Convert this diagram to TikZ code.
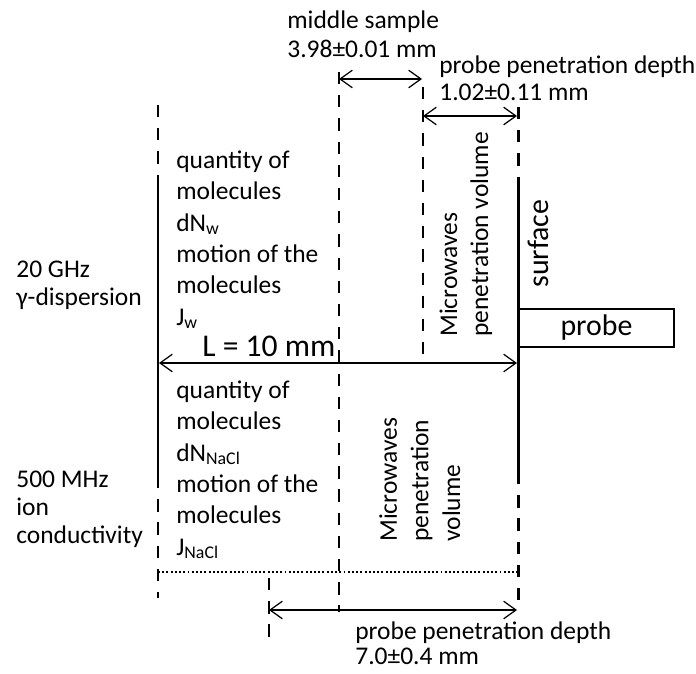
\documentclass[tikz,border=0pt]{standalone}
\usepackage{fontspec}
\setmainfont{Carlito}
\usetikzlibrary{arrows.meta}
\begin{document}
\begin{tikzpicture}[x=0.02cm,y=-0.02cm,
  wall/.style={line width=1.7pt},
  cut/.style={line width=1.7pt,dash pattern=on 7pt off 6.2pt},
  dim/.style={line width=0.7pt,{Straight Barb[length=7pt,width=10pt]}-{Straight Barb[length=7pt,width=10pt]}},
  txt/.style={inner sep=0pt,anchor=base west,align=left,font=\fontsize{14.5}{#1}\selectfont},
  txt/.default=17.8pt]
\useasboundingbox (0,0) rectangle (696,673);
% sample walls
\draw[cut] (158,105)--(158,182);
\draw[wall] (158,182)--(158,476);
\draw[cut] (158,476)--(158,598);
\draw[cut] (518,107)--(518,180);
\draw[wall] (518,180)--(518,472);
\draw[cut] (518,472)--(518,610);
% inner borders
\draw[cut] (339,72)--(339,612);
\draw[cut] (423,87)--(423,362);
\draw[cut] (269,578)--(269,638);
\draw[line width=0.9pt,dash pattern=on 1.1pt off 1.3pt] (158,572)--(518,572);
% dimensions
\coordinate (m1) at (339,79);  \coordinate (m2) at (422,79);
\coordinate (p1) at (423,116); \coordinate (p2) at (517,116);
\coordinate (l1) at (159,363); \coordinate (l2) at (517,363);
\coordinate (q1) at (269,610); \coordinate (q2) at (517,610);
\draw[dim] (m1)--(m2);
\draw[dim] (p1)--(p2);
\draw[dim] (l1)--(l2);
\draw[dim] (q1)--(q2);
% probe
\node[draw,line width=1.1pt,minimum width=3.1cm,minimum height=0.76cm,inner sep=0pt,
  font=\fontsize{17}{20}\selectfont] (probe) at (596.5,328) {probe};
\node[txt=20pt,font=\fontsize{17}{20}\selectfont,rotate=90] (surf) at (548,288) {surface};
% labels (anchored at the last baseline)
\node[txt=16.4pt] (mid) at (287,57) {middle sample\\3.98±0.01 mm};
\node[txt=15.3pt] (pdw) at (439,100) {probe penetration depth\\1.02±0.11 mm};
\node[txt=14.2pt] (pdn) at (355,664) {probe penetration depth\\7.0±0.4 mm};
\node[txt,font=\fontsize{18}{21}\selectfont] (len) at (202,356) {L = 10 mm};
\node[txt] (wat) at (176,325) {quantity of\\molecules\\dN\textsubscript{w}\\motion of the\\molecules\\J\textsubscript{w}};
\node[txt] (nacl) at (176,555) {quantity of\\molecules\\dN\textsubscript{NaCl}\\motion of the\\molecules\\J\textsubscript{NaCl}};
\node[txt=15.9pt] (ghz) at (16,305) {20 GHz\\γ-dispersion};
\node[txt=15.9pt] (mhz) at (16,543) {500 MHz\\ion\\conductivity};
\node[txt=17.6pt,rotate=90] (vw) at (488,337) {Microwaves\\penetration volume};
\node[txt=18pt,rotate=90] (vn) at (460,542) {Microwaves\\penetration\\volume};
\end{tikzpicture}
\end{document}
